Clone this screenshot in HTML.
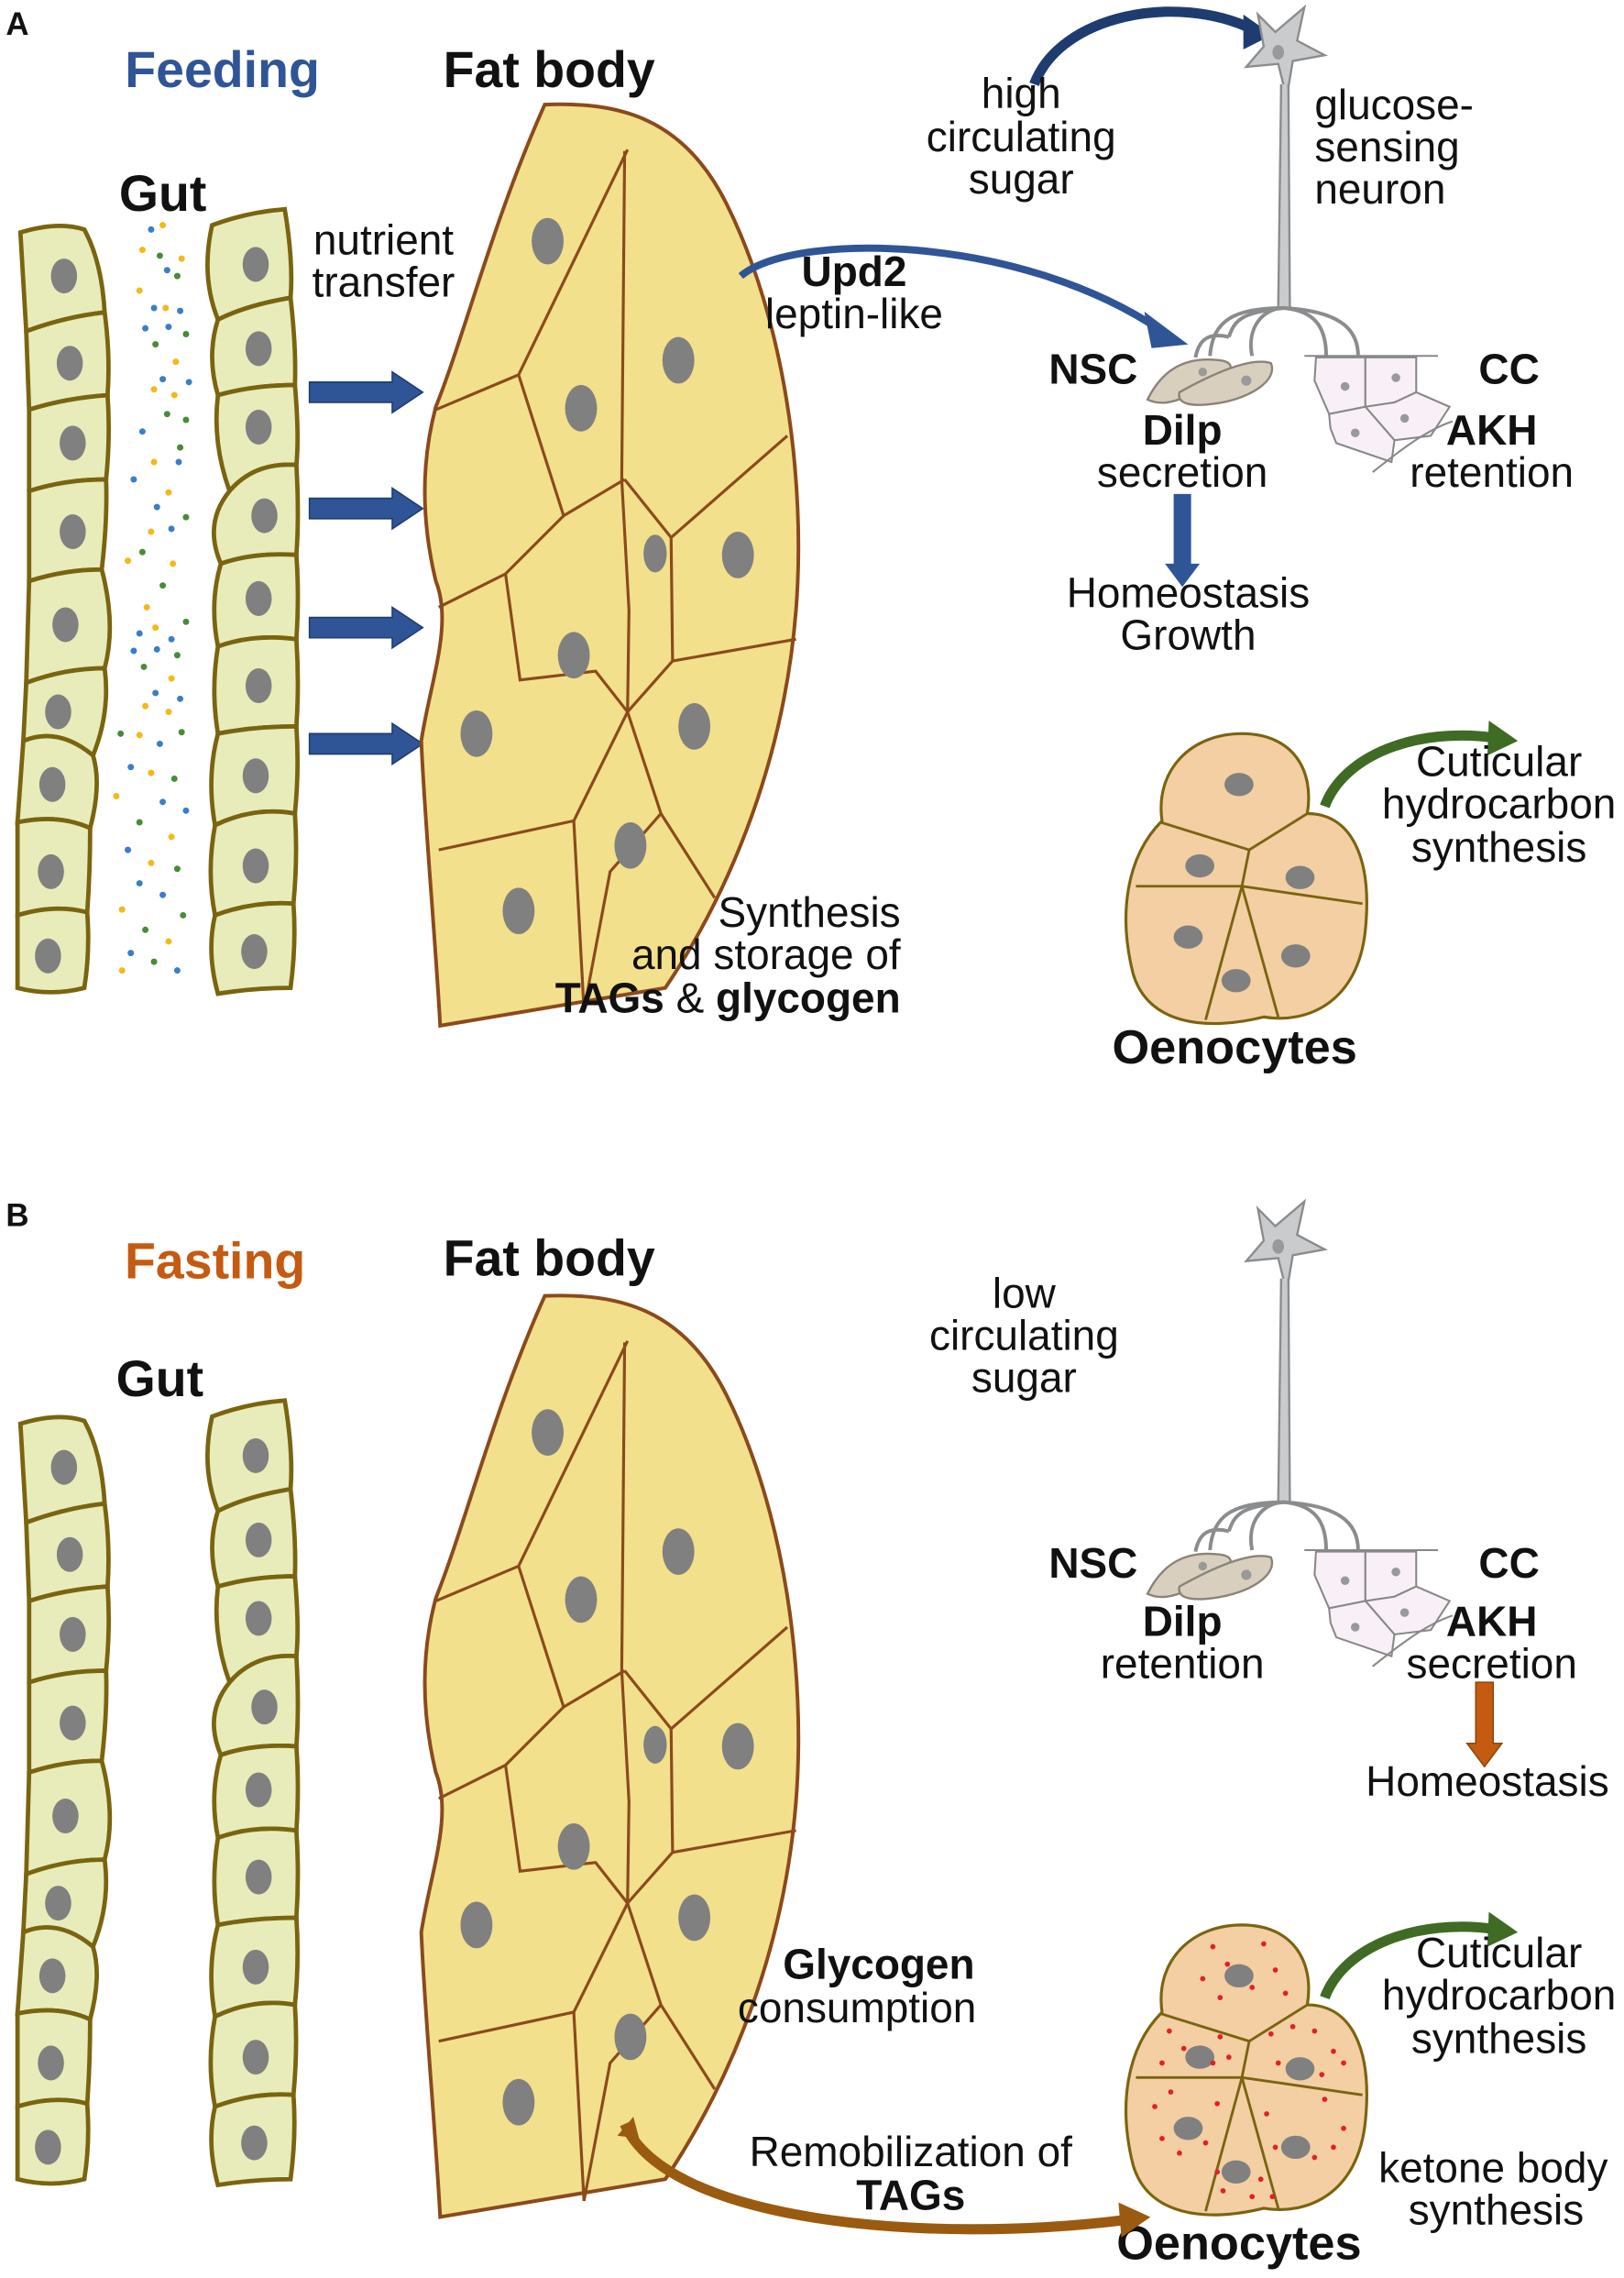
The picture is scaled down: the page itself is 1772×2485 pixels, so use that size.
<!DOCTYPE html>
<html><head><meta charset="utf-8"><style>
html,body{margin:0;padding:0;background:#fff}
svg{display:block}
text{font-family:"Liberation Sans",Arial,sans-serif;fill:#111}
.b{font-weight:bold}
</style></head><body>
<svg width="1772" height="2485" viewBox="0 0 1118 1568" xmlns="http://www.w3.org/2000/svg">
<defs>
  <g id="gut">
    <g fill="#e8ecba" stroke="#7a6410" stroke-width="3">
      <path d="M14,160 Q40,152 58,158 Q70,180 72,215 Q45,218 18,228 Z"/>
      <path d="M18,228 Q45,218 72,215 Q76,245 74,272 Q45,274 20,282 Z"/>
      <path d="M20,282 Q45,274 74,272 Q76,300 73,330 Q45,330 20,338 Z"/>
      <path d="M20,338 Q45,330 73,330 Q74,358 70,392 Q45,392 20,400 Z"/>
      <path d="M20,400 Q45,392 70,392 Q80,430 72,460 Q45,460 18,470 Z"/>
      <path d="M18,470 Q45,460 72,460 Q76,490 64,520 Q40,500 16,510 Z"/>
      <path d="M16,510 Q40,500 64,520 Q70,540 62,570 Q40,560 12,566 Z"/>
      <path d="M12,566 Q40,560 62,570 Q62,600 60,628 Q38,622 12,630 Z"/>
      <path d="M12,630 Q38,622 60,628 Q62,655 58,680 Q35,686 12,680 Z"/>
      <path d="M146,155 Q170,146 196,144 Q202,180 200,205 Q170,210 150,220 Q138,190 146,155 Z"/>
      <path d="M150,220 Q170,210 200,205 Q204,240 203,265 Q175,265 150,272 Q142,245 150,220 Z"/>
      <path d="M150,272 Q175,265 203,265 Q206,300 204,320 Q175,318 158,338 Q146,305 150,272 Z"/>
      <path d="M158,338 Q175,318 204,320 Q206,355 204,382 Q175,380 152,388 Q140,360 158,338 Z"/>
      <path d="M152,388 Q175,380 204,382 Q206,410 204,440 Q175,436 150,445 Q144,415 152,388 Z"/>
      <path d="M150,445 Q175,436 204,440 Q206,470 204,500 Q175,500 150,505 Q145,475 150,445 Z"/>
      <path d="M150,505 Q175,500 204,500 Q206,530 203,560 Q175,555 148,568 Q142,535 150,505 Z"/>
      <path d="M148,568 Q175,555 203,560 Q205,590 202,622 Q175,620 148,630 Q142,600 148,568 Z"/>
      <path d="M148,630 Q175,620 202,622 Q204,650 200,680 Q175,680 150,684 Q142,655 148,630 Z"/>
    </g>
    <g fill="#808080">
      <ellipse cx="44" cy="190" rx="9" ry="12"/><ellipse cx="48" cy="250" rx="9" ry="12"/>
      <ellipse cx="50" cy="305" rx="9" ry="12"/><ellipse cx="50" cy="366" rx="9" ry="12"/>
      <ellipse cx="45" cy="430" rx="9" ry="12"/><ellipse cx="40" cy="490" rx="9" ry="12"/>
      <ellipse cx="36" cy="540" rx="9" ry="12"/><ellipse cx="35" cy="600" rx="9" ry="12"/>
      <ellipse cx="33" cy="658" rx="9" ry="12"/>
      <ellipse cx="176" cy="182" rx="9" ry="12"/><ellipse cx="178" cy="240" rx="9" ry="12"/>
      <ellipse cx="178" cy="294" rx="9" ry="12"/><ellipse cx="182" cy="355" rx="9" ry="12"/>
      <ellipse cx="178" cy="412" rx="9" ry="12"/><ellipse cx="178" cy="472" rx="9" ry="12"/>
      <ellipse cx="176" cy="534" rx="9" ry="12"/><ellipse cx="176" cy="596" rx="9" ry="12"/>
      <ellipse cx="175" cy="655" rx="9" ry="12"/>
    </g>
  </g>
  <g id="fat">
    <path d="M375,72 C425,70 470,80 500,140 C540,220 555,330 548,420 C540,520 505,610 458,680 L303,706 C300,650 292,560 290,510 C296,470 312,430 300,400 C288,350 292,310 300,280 C320,230 340,150 375,72 Z" fill="#f3e08c" stroke="#8b4a1c" stroke-width="2.5"/>
    <g fill="none" stroke="#8b4a1c" stroke-width="2">
      <path d="M300,282 L357,258 L432,103"/>
      <path d="M357,258 L388,355 L430,330"/>
      <path d="M430,104 L428,330 L433,420 L432,490"/>
      <path d="M430,330 L462,370 L542,300"/>
      <path d="M462,370 L463,455 L432,490"/>
      <path d="M388,355 L348,395 L302,418"/>
      <path d="M348,395 L358,468 L410,462 L432,490"/>
      <path d="M463,455 L548,440"/>
      <path d="M432,490 L395,565 L302,585"/>
      <path d="M395,565 L402,695"/>
      <path d="M432,490 L455,560 L492,618"/>
      <path d="M455,560 L420,600 L402,695"/>
    </g>
    <g fill="#808080">
      <ellipse cx="377" cy="166" rx="11" ry="16"/><ellipse cx="467" cy="248" rx="11" ry="16"/>
      <ellipse cx="400" cy="281" rx="11" ry="16"/><ellipse cx="451" cy="381" rx="8" ry="13"/>
      <ellipse cx="508" cy="382" rx="11" ry="16"/><ellipse cx="395" cy="451" rx="11" ry="16"/>
      <ellipse cx="328" cy="505" rx="11" ry="16"/><ellipse cx="478" cy="500" rx="11" ry="16"/>
      <ellipse cx="434" cy="582" rx="11" ry="16"/><ellipse cx="357" cy="627" rx="11" ry="16"/>
    </g>
  </g>
  <g id="neuro">
    <path d="M866,10 L878,22 L898,5 L893,28 L912,38 L890,42 L887,60 L884,60 L880,44 L858,46 L870,32 Z" fill="#c9cbcd" stroke="#8a8c8e" stroke-width="1.5"/>
    <ellipse cx="880" cy="36" rx="4" ry="5" fill="#999"/>
    <path d="M882,58 L880,212 L888,212 L887,58" fill="#c9cbcd" stroke="#8a8c8e" stroke-width="1.5"/>
    <g fill="none" stroke="#8a8c8e" stroke-width="2.5">
      <path d="M884,212 C850,212 835,220 833,245"/>
      <path d="M884,212 C870,212 858,225 862,245"/>
      <path d="M884,212 C905,214 913,225 913,245"/>
      <path d="M884,212 C920,214 935,225 935,245"/>
      <path d="M884,212 C855,215 850,220 846,232 M846,232 C830,228 825,236 823,246"/>
    </g>
    <path d="M790,275 C800,255 815,245 840,248 C855,250 845,262 825,270 C810,276 800,280 790,275 Z" fill="#d8cfbf" stroke="#8a8478" stroke-width="1.5"/>
    <path d="M812,270 C830,260 860,245 875,250 C880,262 860,275 835,278 C820,280 810,278 812,270 Z" fill="#d8cfbf" stroke="#8a8478" stroke-width="1.5"/>
    <circle cx="828" cy="256" r="3" fill="#999"/><circle cx="858" cy="262" r="3.5" fill="#999"/>
    <g fill="#f8f0f6" stroke="#888" stroke-width="1.3">
      <path d="M906,246 L940,246 L940,280 L915,285 L905,262 Z"/>
      <path d="M940,246 L975,246 L975,270 L960,277 L940,280 Z"/>
      <path d="M940,280 L960,277 L975,270 L998,280 L985,300 L960,303 Z"/>
      <path d="M915,285 L940,280 L960,303 L958,318 L920,305 L916,295 Z"/>
    </g>
    <path d="M898,245 L990,245 M945,325 C970,305 985,295 1000,290" stroke="#888" stroke-width="1.3" fill="none"/>
    <g fill="#999"><circle cx="926" cy="266" r="3"/><circle cx="961" cy="260" r="3"/><circle cx="967" cy="288" r="3"/><circle cx="933" cy="298" r="3"/></g>
  </g>
  <g id="oeno">
    <path d="M800,565 C795,530 820,505 855,505 C890,505 905,530 900,560 C930,560 945,590 940,640 C935,690 900,705 870,700 C830,710 790,705 780,670 C770,630 775,590 800,565 Z" fill="#f3cfa3" stroke="#7a6410" stroke-width="2"/>
    <g fill="none" stroke="#7a6410" stroke-width="1.8">
      <path d="M799,566 L860,585 L900,560"/>
      <path d="M860,585 L855,610 L782,610"/>
      <path d="M855,610 L938,622"/>
      <path d="M855,610 L830,702"/>
      <path d="M855,610 L880,700"/>
    </g>
    <g fill="#808080">
      <ellipse cx="853" cy="540" rx="10" ry="8"/><ellipse cx="826" cy="596" rx="10" ry="8"/>
      <ellipse cx="895" cy="604" rx="10" ry="8"/><ellipse cx="818" cy="645" rx="10" ry="8"/>
      <ellipse cx="892" cy="658" rx="10" ry="8"/><ellipse cx="851" cy="675" rx="10" ry="8"/>
    </g>
  </g>
  <g id="garrow">
    <path d="M912,555 C925,520 975,500 1030,508" fill="none" stroke="#3f6b24" stroke-width="7"/>
    <path d="M1025,496 L1045,510 L1024,520 Z" fill="#3f6b24"/>
  </g>
  <g id="barrow">
    <path d="M213,263 L270,263 L270,256 L291,270 L270,284 L270,277 L213,277 Z" fill="#2f5597" stroke="#1f3c70" stroke-width="1"/>
  </g>
</defs>

<!-- PANEL A -->
<text x="4" y="24" class="b" font-size="22">A</text>
<text x="153" y="60" class="b" font-size="35" text-anchor="middle" style="fill:#2f5597">Feeding</text>
<text x="378" y="60" class="b" font-size="35" text-anchor="middle">Fat body</text>
<text x="112" y="145" class="b" font-size="35" text-anchor="middle">Gut</text>
<use href="#gut"/>
<g>
<circle cx="104" cy="158" r="2.2" fill="#3a7fc6"/><circle cx="112" cy="155" r="2.2" fill="#f5b819"/>
<circle cx="98" cy="172" r="2.2" fill="#f5b819"/><circle cx="110" cy="176" r="2.2" fill="#4a8a3a"/><circle cx="125" cy="178" r="2.2" fill="#f5b819"/>
<circle cx="115" cy="186" r="2.2" fill="#3a7fc6"/><circle cx="122" cy="190" r="2.2" fill="#4a8a3a"/><circle cx="96" cy="200" r="2.2" fill="#f5b819"/>
<circle cx="106" cy="212" r="2.2" fill="#3a7fc6"/><circle cx="114" cy="212" r="2.2" fill="#f5b819"/><circle cx="124" cy="214" r="2.2" fill="#3a7fc6"/>
<circle cx="100" cy="226" r="2.2" fill="#3a7fc6"/><circle cx="116" cy="225" r="2.2" fill="#3a7fc6"/><circle cx="128" cy="230" r="2.2" fill="#4a8a3a"/>
<circle cx="107" cy="237" r="2.2" fill="#4a8a3a"/><circle cx="121" cy="249" r="2.2" fill="#f5b819"/><circle cx="112" cy="261" r="2.2" fill="#3a7fc6"/>
<circle cx="130" cy="263" r="2.2" fill="#3a7fc6"/><circle cx="106" cy="268" r="2.2" fill="#f5b819"/><circle cx="120" cy="272" r="2.2" fill="#f5b819"/>
<circle cx="115" cy="285" r="2.2" fill="#4a8a3a"/><circle cx="128" cy="289" r="2.2" fill="#4a8a3a"/><circle cx="98" cy="297" r="2.2" fill="#3a7fc6"/>
<circle cx="124" cy="308" r="2.2" fill="#4a8a3a"/><circle cx="106" cy="318" r="2.2" fill="#f5b819"/><circle cx="123" cy="318" r="2.2" fill="#3a7fc6"/>
<circle cx="92" cy="330" r="2.2" fill="#3a7fc6"/><circle cx="116" cy="339" r="2.2" fill="#f5b819"/><circle cx="108" cy="349" r="2.2" fill="#3a7fc6"/>
<circle cx="128" cy="356" r="2.2" fill="#4a8a3a"/><circle cx="104" cy="366" r="2.2" fill="#f5b819"/><circle cx="118" cy="364" r="2.2" fill="#3a7fc6"/>
<circle cx="98" cy="380" r="2.2" fill="#4a8a3a"/><circle cx="88" cy="386" r="2.2" fill="#f5b819"/><circle cx="119" cy="388" r="2.2" fill="#f5b819"/>
<circle cx="112" cy="403" r="2.2" fill="#4a8a3a"/><circle cx="101" cy="418" r="2.2" fill="#f5b819"/><circle cx="128" cy="428" r="2.2" fill="#4a8a3a"/>
<circle cx="96" cy="436" r="2.2" fill="#3a7fc6"/><circle cx="107" cy="432" r="2.2" fill="#f5b819"/><circle cx="118" cy="440" r="2.2" fill="#3a7fc6"/>
<circle cx="92" cy="448" r="2.2" fill="#3a7fc6"/><circle cx="108" cy="447" r="2.2" fill="#3a7fc6"/><circle cx="122" cy="451" r="2.2" fill="#4a8a3a"/>
<circle cx="99" cy="459" r="2.2" fill="#4a8a3a"/><circle cx="118" cy="467" r="2.2" fill="#f5b819"/><circle cx="107" cy="477" r="2.2" fill="#3a7fc6"/>
<circle cx="124" cy="481" r="2.2" fill="#3a7fc6"/><circle cx="100" cy="486" r="2.2" fill="#f5b819"/><circle cx="116" cy="490" r="2.2" fill="#f5b819"/>
<circle cx="83" cy="505" r="2.2" fill="#4a8a3a"/><circle cx="96" cy="506" r="2.2" fill="#f5b819"/><circle cx="110" cy="512" r="2.2" fill="#3a7fc6"/><circle cx="125" cy="504" r="2.2" fill="#4a8a3a"/>
<circle cx="90" cy="528" r="2.2" fill="#3a7fc6"/><circle cx="104" cy="532" r="2.2" fill="#f5b819"/><circle cx="120" cy="536" r="2.2" fill="#4a8a3a"/>
<circle cx="80" cy="548" r="2.2" fill="#f5b819"/><circle cx="112" cy="552" r="2.2" fill="#3a7fc6"/><circle cx="128" cy="558" r="2.2" fill="#3a7fc6"/>
<circle cx="96" cy="566" r="2.2" fill="#4a8a3a"/><circle cx="118" cy="576" r="2.2" fill="#f5b819"/><circle cx="88" cy="585" r="2.2" fill="#3a7fc6"/>
<circle cx="104" cy="594" r="2.2" fill="#f5b819"/><circle cx="122" cy="598" r="2.2" fill="#4a8a3a"/><circle cx="96" cy="608" r="2.2" fill="#3a7fc6"/>
<circle cx="112" cy="616" r="2.2" fill="#3a7fc6"/><circle cx="84" cy="626" r="2.2" fill="#f5b819"/><circle cx="126" cy="630" r="2.2" fill="#4a8a3a"/>
<circle cx="100" cy="640" r="2.2" fill="#4a8a3a"/><circle cx="116" cy="648" r="2.2" fill="#f5b819"/><circle cx="90" cy="656" r="2.2" fill="#3a7fc6"/>
<circle cx="106" cy="662" r="2.2" fill="#4a8a3a"/><circle cx="122" cy="668" r="2.2" fill="#3a7fc6"/><circle cx="84" cy="668" r="2.2" fill="#f5b819"/>
</g>
<text x="264" y="175" font-size="29" text-anchor="middle">nutrient</text>
<text x="264" y="204" font-size="29" text-anchor="middle">transfer</text>
<use href="#barrow"/>
<use href="#barrow" transform="translate(0,80)"/>
<use href="#barrow" transform="translate(0,162)"/>
<use href="#barrow" transform="translate(0,242)"/>
<use href="#fat"/>
<text x="620" y="638" font-size="29" text-anchor="end">Synthesis</text>
<text x="620" y="667" font-size="29" text-anchor="end">and storage of</text>
<text x="620" y="697" font-size="29" text-anchor="end"><tspan class="b">TAGs</tspan> &amp; <tspan class="b">glycogen</tspan></text>

<!-- Upd2 arrow -->
<path d="M510,190 C545,160 700,160 800,228" fill="none" stroke="#2f5597" stroke-width="5"/>
<path d="M790,218 L814,236 L794,238 Z" fill="#2f5597" stroke="#2f5597" stroke-width="3"/>
<text x="588" y="197" class="b" font-size="29" text-anchor="middle">Upd2</text>
<text x="588" y="226" font-size="29" text-anchor="middle">leptin-like</text>
<!-- top arc -->
<path d="M712,58 C730,10 810,-5 862,20" fill="none" stroke="#1f3c70" stroke-width="7"/>
<path d="M856,10 L876,24 L856,34 Z" fill="#1f3c70"/>
<text x="703" y="74" font-size="29" text-anchor="middle">high</text>
<text x="703" y="104" font-size="29" text-anchor="middle">circulating</text>
<text x="703" y="133" font-size="29" text-anchor="middle">sugar</text>
<use href="#neuro"/>
<text x="905" y="82" font-size="29">glucose-</text>
<text x="905" y="111" font-size="29">sensing</text>
<text x="905" y="140" font-size="29">neuron</text>
<text x="722" y="264" class="b" font-size="29">NSC</text>
<text x="1018" y="264" class="b" font-size="29">CC</text>
<text x="814" y="306" class="b" font-size="29" text-anchor="middle">Dilp</text>
<text x="814" y="335" font-size="29" text-anchor="middle">secretion</text>
<text x="1027" y="306" class="b" font-size="29" text-anchor="middle">AKH</text>
<text x="1027" y="335" font-size="29" text-anchor="middle">retention</text>
<path d="M808,340 L820,340 L820,388 L826,388 L814,404 L802,388 L808,388 Z" fill="#2f5597"/>
<text x="818" y="418" font-size="29" text-anchor="middle">Homeostasis</text>
<text x="818" y="447" font-size="29" text-anchor="middle">Growth</text>
<use href="#oeno"/>
<use href="#garrow"/>
<text x="1032" y="534" font-size="29" text-anchor="middle">Cuticular</text>
<text x="1032" y="563" font-size="29" text-anchor="middle">hydrocarbon</text>
<text x="1032" y="593" font-size="29" text-anchor="middle">synthesis</text>
<text x="850" y="732" class="b" font-size="33" text-anchor="middle">Oenocytes</text>

<!-- PANEL B -->
<text x="4" y="844" class="b" font-size="22">B</text>
<text x="148" y="880" class="b" font-size="35" text-anchor="middle" style="fill:#c55a11">Fasting</text>
<text x="378" y="878" class="b" font-size="35" text-anchor="middle">Fat body</text>
<text x="110" y="961" class="b" font-size="35" text-anchor="middle">Gut</text>
<use href="#gut" transform="translate(0,820)"/>
<use href="#fat" transform="translate(0,820)"/>
<text x="705" y="900" font-size="29" text-anchor="middle">low</text>
<text x="705" y="929" font-size="29" text-anchor="middle">circulating</text>
<text x="705" y="958" font-size="29" text-anchor="middle">sugar</text>
<use href="#neuro" transform="translate(0,822)"/>
<text x="722" y="1086" class="b" font-size="29">NSC</text>
<text x="1018" y="1086" class="b" font-size="29">CC</text>
<text x="814" y="1126" class="b" font-size="29" text-anchor="middle">Dilp</text>
<text x="814" y="1155" font-size="29" text-anchor="middle">retention</text>
<text x="1027" y="1126" class="b" font-size="29" text-anchor="middle">AKH</text>
<text x="1027" y="1155" font-size="29" text-anchor="middle">secretion</text>
<path d="M1016,1158 L1028,1158 L1028,1200 L1034,1200 L1022,1216 L1010,1200 L1016,1200 Z" fill="#c55a11" stroke="#8a4a10" stroke-width="1"/>
<text x="1024" y="1236" font-size="29" text-anchor="middle">Homeostasis</text>
<text x="605" y="1362" class="b" font-size="29" text-anchor="middle">Glycogen</text>
<text x="590" y="1392" font-size="29" text-anchor="middle">consumption</text>
<use href="#oeno" transform="translate(0,820)"/>
<g fill="#e0202a">
<circle cx="835" cy="1340" r="1.8"/><circle cx="870" cy="1338" r="1.8"/><circle cx="845" cy="1352" r="1.8"/><circle cx="878" cy="1356" r="1.8"/><circle cx="828" cy="1362" r="1.8"/><circle cx="862" cy="1368" r="1.8"/><circle cx="885" cy="1372" r="1.8"/><circle cx="840" cy="1375" r="1.8"/>
<circle cx="805" cy="1398" r="1.8"/><circle cx="815" cy="1410" r="1.8"/><circle cx="840" cy="1402" r="1.8"/><circle cx="835" cy="1420" r="1.8"/><circle cx="800" cy="1420" r="1.8"/><circle cx="846" cy="1416" r="1.8"/>
<circle cx="875" cy="1400" r="1.8"/><circle cx="905" cy="1398" r="1.8"/><circle cx="918" cy="1412" r="1.8"/><circle cx="880" cy="1420" r="1.8"/><circle cx="910" cy="1428" r="1.8"/><circle cx="925" cy="1420" r="1.8"/><circle cx="890" cy="1395" r="1.8"/>
<circle cx="795" cy="1450" r="1.8"/><circle cx="806" cy="1440" r="1.8"/><circle cx="838" cy="1448" r="1.8"/><circle cx="830" cy="1475" r="1.8"/><circle cx="800" cy="1472" r="1.8"/><circle cx="812" cy="1482" r="1.8"/>
<circle cx="872" cy="1455" r="1.8"/><circle cx="912" cy="1445" r="1.8"/><circle cx="925" cy="1465" r="1.8"/><circle cx="905" cy="1485" r="1.8"/><circle cx="878" cy="1478" r="1.8"/><circle cx="918" cy="1478" r="1.8"/>
<circle cx="838" cy="1495" r="1.8"/><circle cx="868" cy="1500" r="1.8"/><circle cx="862" cy="1512" r="1.8"/><circle cx="842" cy="1508" r="1.8"/><circle cx="876" cy="1512" r="1.8"/>
</g>
<use href="#garrow" transform="translate(0,820)"/>
<text x="1032" y="1354" font-size="29" text-anchor="middle">Cuticular</text>
<text x="1032" y="1383" font-size="29" text-anchor="middle">hydrocarbon</text>
<text x="1032" y="1413" font-size="29" text-anchor="middle">synthesis</text>
<text x="1028" y="1502" font-size="29" text-anchor="middle">ketone body</text>
<text x="1030" y="1531" font-size="29" text-anchor="middle">synthesis</text>
<text x="853" y="1555" class="b" font-size="33" text-anchor="middle">Oenocytes</text>
<!-- remobilization arrow -->
<path d="M430,1462 C460,1530 640,1545 775,1528" fill="none" stroke="#9a5a10" stroke-width="7"/>
<path d="M425,1470 L436,1457 L440,1472 Z" fill="#9a5a10"/>
<path d="M770,1516 L792,1526 L772,1540 Z" fill="#9a5a10"/>
<text x="627" y="1491" font-size="29" text-anchor="middle">Remobilization of</text>
<text x="627" y="1521" class="b" font-size="29" text-anchor="middle">TAGs</text>
</svg>
</body></html>
